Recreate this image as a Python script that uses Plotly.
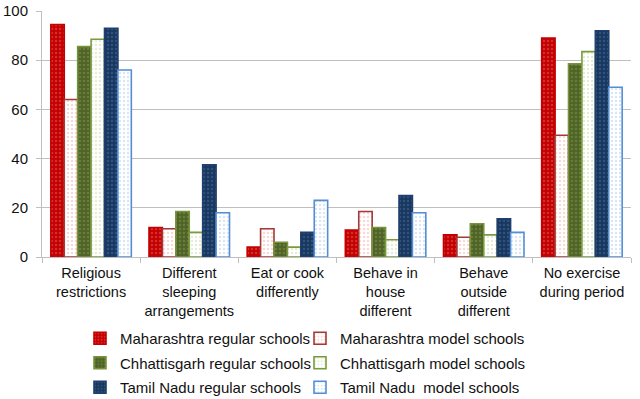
import plotly.graph_objects as go

categories = ["Religious<br>restrictions", "Different<br>sleeping<br>arrangements",
              "Eat or cook<br>differently", "Behave in<br>house<br>different",
              "Behave<br>outside<br>different", "No exercise<br>during period"]

series_names = ["Maharashtra regular schools", "Maharashtra model schools",
                "Chhattisgarh regular schools", "Chhattisgarh model schools",
                "Tamil Nadu regular schools", "Tamil Nadu  model schools"]

mah_regular = [94.5, 12, 4, 11, 9, 89]
mah_model = [64, 11.5, 11.5, 18.5, 8, 49.5]
chh_regular = [85.5, 18.5, 6, 12, 13.5, 78.5]
chh_model = [88.5, 10, 4, 7, 9, 83.5]
tn_regular = [93, 37.5, 10, 25, 15.5, 92]
tn_model = [76, 18, 23, 18, 10, 69]

values = [mah_regular, mah_model, chh_regular, chh_model, tn_regular, tn_model]

# style per series: (background, dot colour, border)
styles = [
    ("#C40000", "#E0605C", "#C40000"),
    ("#FFFFFF", "#F2B0B0", "#A33A36"),
    ("#4F6228", "#7E9A45", "#77933C"),
    ("#FFFFFF", "#CCDAAE", "#7A9A3E"),
    ("#17375E", "#4A6C9E", "#1F3F6E"),
    ("#FFFFFF", "#B4CAEA", "#558ED5"),
]
legend_ids = ["legend", "legend2", "legend", "legend2", "legend", "legend2"]

fig = go.Figure()
for name, vals, (bg, fg, border), lg in zip(series_names, values, styles, legend_ids):
    fig.add_trace(go.Bar(
        x=categories, y=vals, name=name, legend=lg, legendgroup=name,
        marker=dict(
            color=bg,
            line=dict(color=border, width=1.6),
            pattern=dict(shape=".", bgcolor=bg, fgcolor=fg, size=4, solidity=0.3),
        ),
    ))

W, H = 640, 399
grid = "#BFBFBF"
legend_common = dict(
    orientation="v", xref="container", yref="container", xanchor="left", yanchor="top",
    y=1 - 322 / H, font=dict(size=15), itemwidth=30, tracegroupgap=2,
    bgcolor="rgba(0,0,0,0)",
)
fig.update_layout(
    width=W, height=H,
    margin=dict(l=42, r=9, t=11, b=142, autoexpand=False),
    paper_bgcolor="white", plot_bgcolor="white",
    barmode="group", bargap=0.18, bargroupgap=0,
    font=dict(family="Liberation Sans, Arial, sans-serif", size=15, color="#111111"),
    showlegend=True,
    legend=dict(x=80 / W, **legend_common),
    legend2=dict(x=300 / W, **legend_common),
    yaxis=dict(
        range=[0, 100], dtick=20, showgrid=True, gridcolor=grid, gridwidth=1,
        showline=True, linecolor=grid, linewidth=1,
        ticks="outside", ticklen=5, tickcolor=grid, ticklabelstandoff=5,
        tickfont=dict(size=15), zeroline=False, automargin=False,
    ),
    xaxis=dict(
        showline=True, linecolor=grid, linewidth=1,
        ticks="outside", ticklen=5, tickcolor=grid, tickson="boundaries",
        ticklabelstandoff=3,
        tickfont=dict(size=14.5), tickangle=0, automargin=False,
    ),
)

fig.write_html("out.html", config={"displayModeBar": False},
               post_script="document.body.style.margin='0';")
